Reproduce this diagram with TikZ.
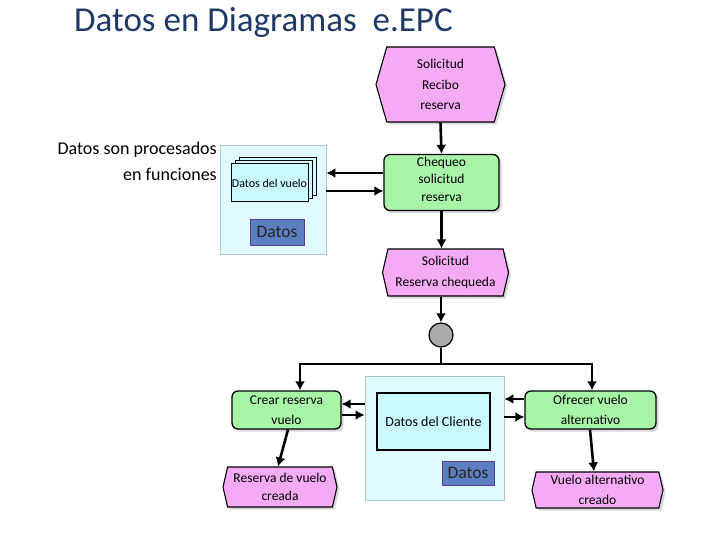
\documentclass[tikz,border=0pt]{standalone}
\usepackage{fontspec}
\setmainfont{Carlito}
\usetikzlibrary{arrows.meta,shapes.symbols,shadows}
\definecolor{evfill}{RGB}{245,170,245}
\definecolor{fnfill}{RGB}{168,245,168}
\definecolor{panelfill}{RGB}{224,251,255}
\definecolor{panelline}{RGB}{175,195,205}
\definecolor{docfill}{RGB}{200,250,255}
\definecolor{datfill}{RGB}{92,126,192}
\definecolor{datline}{RGB}{80,60,150}
\definecolor{titleblue}{RGB}{31,56,100}
\definecolor{circfill}{RGB}{170,170,170}
\begin{document}
\begin{tikzpicture}[x=1pt,y=-1pt,
  shd/.style={drop shadow={shadow xshift=2.5pt,shadow yshift=-2.5pt,fill=black!30,opacity=0.5}},
  ev/.style={signal, signal to=west and east, signal pointer angle=154, draw=black, line width=1.1pt,
    fill=evfill, align=center, inner sep=0pt, font=\fontsize{13.5}{20.5}\selectfont, shd},
  fn/.style={rectangle, rounded corners=6pt, draw=black, line width=1.3pt, fill=fnfill,
    align=center, inner sep=0pt, font=\fontsize{13.5}{20.5}\selectfont, shd},
  panel/.style={rectangle, draw=panelline, line width=0.8pt, fill=panelfill, inner sep=0pt},
  doc/.style={rectangle, draw=black, line width=1pt, fill=docfill, inner sep=0pt},
  dat/.style={rectangle, draw=datline, line width=0.8pt, fill=datfill, inner sep=0pt,
    font=\fontsize{17.5}{20}\selectfont, text=black!85},
  arr/.style={line width=2.6pt, -{Latex[length=9pt,width=10pt]}},
  ln/.style={line width=2.6pt}
]
\useasboundingbox (0,0) rectangle (720,540);

% title
\node[anchor=west, text=titleblue, font=\fontsize{35}{38}\selectfont, inner sep=0pt] (title) at (74,22) {Datos en Diagramas\ \ e.EPC};

\node[anchor=east, align=right, inner sep=0pt, font=\fontsize{18}{26}\selectfont] (note) at (217,161) {Datos son procesados\\en funciones};

% events and functions
\node[ev, signal pointer angle=148, minimum width=129pt, minimum height=75pt] (ev1) at (440.5,84.5) {Solicitud\\Recibo\\reserva};
\node[fn, minimum width=115pt, minimum height=56pt,
  label={[align=center, inner sep=0pt, yshift=3.5pt, font=\fontsize{13.5}{17.5}\selectfont]center:Chequeo\\solicitud\\reserva}] (f1) at (441.5,182.5) {};
\node[ev, minimum width=126pt, minimum height=47pt] (ev2) at (445.5,272.5) {Solicitud\\Reserva chequeda};
\node[circle, draw=black, line width=1.2pt, fill=circfill, minimum size=24pt, inner sep=0pt] (circ) at (441,335) {};
\node[fn, minimum width=109pt, minimum height=38pt] (f2) at (286.5,410) {Crear reserva\\vuelo};
\node[ev, minimum width=114pt, minimum height=40pt, font=\fontsize{13.5}{18.5}\selectfont] (ev3) at (280,487) {Reserva de vuelo\\creada};
\node[fn, minimum width=131pt, minimum height=38pt] (f3) at (590.5,410) {Ofrecer vuelo\\alternativo};
\node[ev, minimum width=131pt, minimum height=36pt, font=\fontsize{13.5}{19.5}\selectfont] (ev4) at (597.5,490) {Vuelo alternativo\\creado};

% data panel 1
\node[panel, minimum width=106pt, minimum height=109pt] (p1) at (273,199.5) {};
\node[doc, minimum width=77pt, minimum height=38pt] (doc1c) at (277.5,177) {};
\node[doc, minimum width=77pt, minimum height=38pt] (doc1b) at (273.5,180) {};
\node[doc, minimum width=77pt, minimum height=38pt, font=\fontsize{12}{14}\selectfont] (doc1) at (269.5,183) {Datos del vuelo};
\node[dat, minimum width=54pt, minimum height=26pt] (d1) at (277,232) {Datos};

% data panel 2
\node[panel, minimum width=139pt, minimum height=124pt] (p2) at (434.5,438) {};
\node[doc, line width=1.6pt, minimum width=113pt, minimum height=57pt, font=\fontsize{14}{16}\selectfont] (doc2) at (433.5,421.5) {Datos del Cliente};
\node[dat, minimum width=52pt, minimum height=24pt] (d2) at (468,473) {Datos};

% control flow
\draw[arr] (ev1.south) -- (f1.north);
\draw[arr] (f1.south) -- (ev2.north -| f1.south);
\draw[arr] (ev2.south -| circ.north) -- (circ.north);
\coordinate (jl) at (300,364);
\coordinate (jr) at (592,364);
\draw[ln] (circ.south) -- (circ.south |- jl);
\draw[ln, line cap=rect] (jl) -- (jr);
\draw[arr] (jl) -- (jl |- f2.north);
\draw[arr] (jr) -- (jr |- f3.north);
\draw[arr] ([xshift=1.5pt]f2.south) -- ([xshift=-2pt]ev3.north);
\draw[arr] ([xshift=-0.5pt]f3.south) -- ([xshift=-3.5pt]ev4.north);

% data flow
\draw[arr] (f1.west |- 0,173) -- (p1.east |- 0,173);
\draw[arr] (p1.east |- 0,191) -- (f1.west |- 0,191);
\draw[arr] (p2.west |- 0,404) -- (f2.east |- 0,404);
\draw[arr] (f2.east |- 0,415) -- (p2.west |- 0,415);
\draw[arr] (f3.west |- 0,399) -- (p2.east |- 0,399);
\draw[arr] (p2.east |- 0,417) -- (f3.west |- 0,417);
\end{tikzpicture}
\end{document}
